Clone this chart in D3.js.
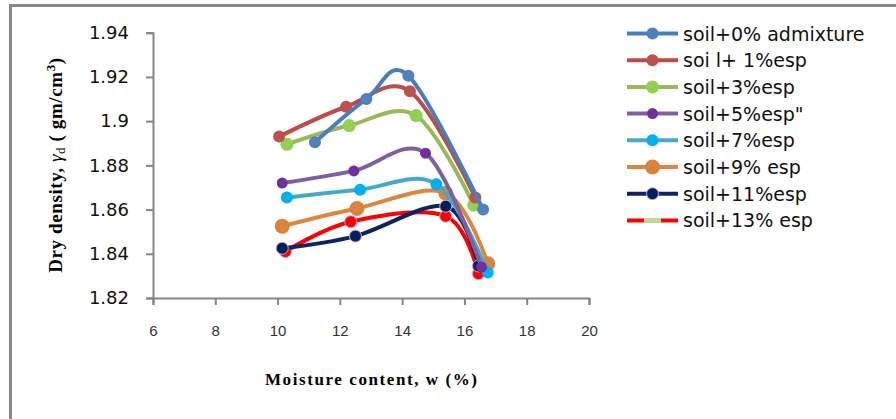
<!DOCTYPE html>
<html>
<head>
<meta charset="utf-8">
<script src="https://cdn.jsdelivr.net/npm/d3@7/dist/d3.min.js"></script>
<style>
  body { margin: 0; background: #fff; }
  svg { display: block; }
</style>
</head>
<body>
<svg width="896" height="419"></svg>
<script>
// values
var seriesNames = ["soil+0% admixture", "soi l+ 1%esp", "soil+3%esp", "soil+5%esp\"",
                   "soil+7%esp", "soil+9% esp", "soil+11%esp", "soil+13% esp"];
var moist0 = [11.2, 12.85, 14.2, 16.6],    dens0 = [1.8905, 1.910, 1.9205, 1.860];
var moist1 = [10.05, 12.2, 14.25, 16.35],  dens1 = [1.893, 1.9065, 1.9135, 1.8655];
var moist3 = [10.3, 12.3, 14.45, 16.3],    dens3 = [1.8895, 1.898, 1.9025, 1.862];
var moist5 = [10.15, 12.45, 14.75, 16.55], dens5 = [1.872, 1.8775, 1.8855, 1.834];
var moist7 = [10.3, 12.65, 15.1, 16.75],   dens7 = [1.8655, 1.869, 1.8715, 1.8315];
var moist9 = [10.15, 12.55, 15.4, 16.75],  dens9 = [1.8525, 1.8605, 1.8675, 1.8355];
var moist11 = [10.15, 12.5, 15.4, 16.45],  dens11 = [1.8425, 1.848, 1.8615, 1.8345];
var moist13 = [10.25, 12.35, 15.4, 16.45], dens13 = [1.841, 1.8545, 1.857, 1.831];
var xTicks = [6, 8, 10, 12, 14, 16, 18, 20];
var yTicks = [1.82, 1.84, 1.86, 1.88, 1.9, 1.92, 1.94];

// styling per series
var lineColors = ["#4A7EBB", "#BE4B48", "#98B954", "#7D60A0", "#46AAC5", "#DD8641", "#0F2560", "#FF0000"];
var markColors = ["#4F81BD", "#C0504D", "#92D050", "#7030A0", "#00B0F0", "#D9843E", "#002060", "#FF0000"];
var markEdge   = [null, null, null, null, null, null, "#D8A8B0", "#B8A8D0"];
var markR      = [6, 6, 6.5, 5.5, 6, 7.5, 6, 6];

var allW = [moist0, moist1, moist3, moist5, moist7, moist9, moist11, moist13];
var allD = [dens0, dens1, dens3, dens5, dens7, dens9, dens11, dens13];
var series = seriesNames.map(function(n, i) {
  return { name: n, i: i, pts: allW[i].map(function(w, j) { return { w: w, d: allD[i][j] }; }) };
});

var svg = d3.select("svg");

// frame (only top and left edges are visible in the crop)
svg.append("line").attr("x1", 9).attr("x2", 896).attr("y1", 5.5).attr("y2", 5.5)
  .attr("stroke", "#888").attr("stroke-width", 3);
svg.append("line").attr("x1", 10.5).attr("x2", 10.5).attr("y1", 4).attr("y2", 419)
  .attr("stroke", "#888").attr("stroke-width", 3);

var x = d3.scaleLinear().domain([6, 20]).range([153, 589]);
var y = d3.scaleLinear().domain([1.82, 1.94]).range([298, 32.7]);

var yAxis = svg.append("g").attr("transform", "translate(153,0)")
  .call(d3.axisLeft(y).tickValues(yTicks).tickFormat(d3.format("")).tickSize(7).tickPadding(17));
var xAxis = svg.append("g").attr("transform", "translate(0,298)")
  .call(d3.axisBottom(x).tickValues(xTicks).tickSize(7).tickPadding(20));

[yAxis, xAxis].forEach(function(g) {
  g.select(".domain").attr("stroke", "#868686").attr("stroke-width", 2);
  g.selectAll(".tick line").attr("stroke", "#868686").attr("stroke-width", 2);
});
yAxis.selectAll("text").attr("font-family", "DejaVu Sans").attr("font-size", 18).attr("fill", "#111");
xAxis.selectAll("text").attr("font-family", "Liberation Sans").attr("font-size", 15).attr("fill", "#333");

// axis titles
svg.append("text").attr("x", 371).attr("y", 385).attr("text-anchor", "middle")
  .attr("font-family", "Liberation Serif").attr("font-weight", "bold").attr("font-size", 17)
  .attr("textLength", 212).attr("lengthAdjust", "spacing")
  .text("Moisture content, w (%)");

var yl = svg.append("text").attr("transform", "translate(62,165) rotate(-90)")
  .attr("text-anchor", "middle").attr("letter-spacing", 0.6)
  .attr("font-family", "Liberation Serif").attr("font-weight", "bold").attr("font-size", 19);
yl.append("tspan").text("Dry density, ");
yl.append("tspan").attr("font-style", "italic").attr("font-weight", "normal").text("γ");
yl.append("tspan").attr("font-size", 13).attr("font-weight", "normal").attr("dy", 3).text("d");
yl.append("tspan").attr("dy", -3).text(" ( gm/cm");
yl.append("tspan").attr("font-size", 13).attr("dy", -7).text("3");
yl.append("tspan").attr("dy", 7).text(")");

// lines + markers
var line = d3.line().x(function(p) { return x(p.w); }).y(function(p) { return y(p.d); })
  .curve(d3.curveCatmullRom.alpha(0));

var groups = svg.append("g").selectAll("g").data(series.slice().reverse()).join("g");
groups.append("path")
  .attr("d", function(s) { return line(s.pts); })
  .attr("fill", "none")
  .attr("stroke", function(s) { return lineColors[s.i]; })
  .attr("stroke-width", 4)
  .attr("stroke-linejoin", "round");
groups.selectAll("circle").data(function(s) { return s.pts.map(function(p) { return { p: p, i: s.i }; }); })
  .join("circle")
  .attr("cx", function(d) { return x(d.p.w); })
  .attr("cy", function(d) { return y(d.p.d); })
  .attr("r", function(d) { return markR[d.i]; })
  .attr("fill", function(d) { return markColors[d.i]; })
  .attr("stroke", function(d) { return markEdge[d.i] || "none"; })
  .attr("stroke-width", 1);

// legend
var legend = svg.append("g").selectAll("g").data(series).join("g")
  .attr("transform", function(s) { return "translate(627," + (33.5 + s.i * 26.7) + ")"; });
legend.append("line").attr("x1", 0).attr("x2", 51).attr("y1", 0).attr("y2", 0)
  .attr("stroke", function(s) { return lineColors[s.i]; }).attr("stroke-width", 4);
legend.filter(function(s) { return s.i < 7; }).append("circle")
  .attr("cx", 25.5).attr("cy", 0)
  .attr("r", function(s) { return markR[s.i]; })
  .attr("fill", function(s) { return markColors[s.i]; })
  .attr("stroke", function(s) { return markEdge[s.i] || "none"; });
legend.filter(function(s) { return s.i === 7; }).append("rect")
  .attr("x", 17).attr("y", -2.5).attr("width", 17).attr("height", 5).attr("fill", "#C4D79B");
legend.append("text").attr("x", 56).attr("y", 7)
  .attr("font-family", "DejaVu Sans").attr("font-size", 19).attr("fill", "#111")
  .text(function(s) { return s.name; });
</script>
</body>
</html>
